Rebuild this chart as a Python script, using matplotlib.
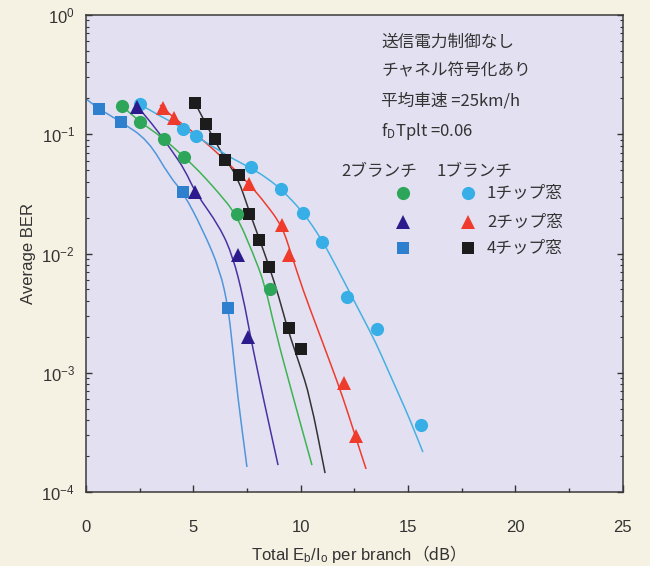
import matplotlib
matplotlib.use('Agg')
import numpy as np
import matplotlib.pyplot as plt
from matplotlib.ticker import LogLocator, MultipleLocator, NullFormatter
from matplotlib.lines import Line2D
from matplotlib.path import Path
from matplotlib.patches import PathPatch
from matplotlib.transforms import IdentityTransform

plt.rcParams['font.family'] = ['Liberation Sans', 'Noto Sans CJK JP', 'DejaVu Sans']
plt.rcParams['mathtext.fontset'] = 'custom'
plt.rcParams['mathtext.rm'] = 'Liberation Sans'
plt.rcParams['mathtext.it'] = 'Liberation Sans:italic'
plt.rcParams['mathtext.default'] = 'regular'

# ---------------- data ----------------
# measured points: 1 branch
b1_c1_x = [2.52, 4.52, 5.13, 7.69, 9.09, 10.11, 11.0, 12.16, 13.56, 15.61]
b1_c1_y = [0.179, 0.111, 0.0967, 0.0531, 0.0347, 0.0219, 0.0125, 0.00432, 0.00233, 0.000365]
b1_c2_x = [3.59, 4.10, 7.60, 9.13, 9.46, 12.02, 12.58]
b1_c2_y = [0.166, 0.137, 0.0383, 0.0173, 0.0097, 0.00082, 0.000295]
b1_c4_x = [5.08, 5.59, 6.01, 6.48, 7.13, 7.60, 8.06, 8.53, 9.46, 10.02]
b1_c4_y = [0.183, 0.122, 0.0912, 0.0608, 0.0455, 0.0214, 0.013, 0.0077, 0.00237, 0.00158]
# measured points: 2 branches
b2_c1_x = [1.68, 2.52, 3.63, 4.57, 7.04, 8.57]
b2_c1_y = [0.173, 0.127, 0.0912, 0.0645, 0.0214, 0.00504]
b2_c2_x = [2.38, 5.08, 7.08, 7.55]
b2_c2_y = [0.169, 0.0328, 0.0097, 0.0020]
b2_c4_x = [0.61, 1.63, 4.52, 6.62]
b2_c4_y = [0.163, 0.127, 0.0328, 0.00349]

# fitted curves
f1_c1_x = [2.33, 3.45, 4.52, 5.78, 6.94, 7.69, 8.43, 9.13, 10.11, 11.00, 11.70, 12.30,
           12.91, 13.51, 14.07, 14.63, 15.10, 15.70]
f1_c1_y = [0.1863, 0.1422, 0.1128, 0.0813, 0.0608, 0.0521, 0.0430, 0.0341, 0.0223, 0.01297,
           0.00755, 0.00467, 0.00288, 0.00178, 0.001054, 0.000626, 0.000402, 0.000216]
f1_c2_x = [3.45, 4.10, 4.94, 5.87, 6.76, 7.60, 8.39, 9.13, 9.55, 10.11, 10.81, 11.42,
           11.98, 12.49, 13.05]
f1_c2_y = [0.176, 0.1368, 0.1064, 0.0767, 0.0542, 0.0383, 0.0260, 0.0170, 0.0101, 0.00494,
           0.00228, 0.00116, 0.000614, 0.000318, 0.000156]
f1_c4_x = [5.08, 5.59, 6.01, 6.52, 7.08, 7.60, 8.06, 8.53, 8.99, 9.41, 9.93, 10.44, 11.14]
f1_c4_y = [0.1828, 0.1219, 0.0878, 0.0608, 0.0430, 0.0227, 0.01349, 0.00785, 0.00432,
           0.00228, 0.00121, 0.000626, 0.000144]
f2_c1_x = [1.68, 2.52, 3.59, 4.57, 5.22, 6.15, 6.99, 7.78, 8.34, 8.81, 9.65, 10.53]
f2_c1_y = [0.1725, 0.1267, 0.0930, 0.0645, 0.0501, 0.0328, 0.0214, 0.0101, 0.00544,
           0.00228, 0.000626, 0.000168]
f2_c2_x = [2.38, 3.31, 4.01, 4.61, 5.08, 6.24, 6.85, 7.32, 7.66, 7.95, 8.25, 8.95]
f2_c2_y = [0.1725, 0.1086, 0.0724, 0.0501, 0.0328, 0.01668, 0.00935, 0.00432, 0.00203,
           0.00114, 0.000626, 0.000168]
f2_c4_x = [0.0, 0.61, 1.63, 2.89, 3.91, 4.52, 5.45, 6.24, 6.62, 6.82, 7.06, 7.50]
f2_c4_y = [0.198, 0.163, 0.127, 0.0895, 0.0438, 0.0328, 0.0157, 0.00728, 0.00356,
           0.00171, 0.000650, 0.000162]

notes = ['送信電力制御なし', 'チャネル符号化あり', '平均車速 =25km/h',
         'f$_\\mathregular{D}$Tplt =0.06']
branch_labels = ['2ブランチ', '1ブランチ']
window_labels = ['1チップ窓', '2チップ窓', '4チップ窓']
x_label = 'Total E$_\\mathregular{b}$/I$_\\mathregular{o}$ per branch'
x_unit = '（dB）'
y_label = 'Average BER'

# ---------------- styles ----------------
C_LB = '#38aee6'
C_GR = '#2ea65a'
C_RD = '#ef3b2c'
C_PU = '#2c1b8c'
C_BL = '#2f7fcf'
C_BK = '#1c1c1c'
L_LB = '#45b0e2'
L_GR = '#3db352'
L_RD = '#ee3b2e'
L_PU = '#4a32a2'
L_BL = '#4f96dc'
L_BK = '#333333'
TXT = '#333333'

W, H = 650, 566
fig = plt.figure(figsize=(6.5, 5.66), dpi=100)
fig.patch.set_facecolor('#f5f1e3')
L, R, T, B = 86, 622.5, 15, 492
ax = fig.add_axes([L / W, 1 - B / H, (R - L) / W, (B - T) / H])
ax.set_facecolor('#e3e1f1')
ax.set_yscale('log')
ax.set_xlim(0, 25)
ax.set_ylim(1e-4, 1)


def smooth_curve(xs, ys, color, lw=1.1):
    """Draw a smooth quadratic B-spline through the read curve points,
    built in display space after the axes scales map the data."""
    p = ax.transData.transform(np.column_stack([xs, ys]))
    verts = [p[0], (p[0] + p[1]) / 2]
    codes = [Path.MOVETO, Path.LINETO]
    for i in range(1, len(p) - 1):
        verts += [p[i], (p[i] + p[i + 1]) / 2]
        codes += [Path.CURVE3, Path.CURVE3]
    verts.append(p[-1])
    codes.append(Path.LINETO)
    ax.add_patch(PathPatch(Path(verts, codes), facecolor='none', edgecolor=color,
                           lw=lw, transform=IdentityTransform(), zorder=2))


smooth_curve(f2_c4_x, f2_c4_y, L_BL)
smooth_curve(f2_c2_x, f2_c2_y, L_PU)
smooth_curve(f2_c1_x, f2_c1_y, L_GR)
smooth_curve(f1_c4_x, f1_c4_y, L_BK)
smooth_curve(f1_c2_x, f1_c2_y, L_RD)
smooth_curve(f1_c1_x, f1_c1_y, L_LB)

ms = 9.5
mk = dict(linestyle='none', markeredgewidth=0, zorder=3)
ax.plot(b1_c1_x, b1_c1_y, marker='o', ms=ms, color=C_LB, **mk)
ax.plot(b1_c2_x, b1_c2_y, marker='^', ms=ms, color=C_RD, **mk)
ax.plot(b1_c4_x, b1_c4_y, marker='s', ms=ms - 0.5, color=C_BK, **mk)
ax.plot(b2_c1_x, b2_c1_y, marker='o', ms=ms, color=C_GR, **mk)
ax.plot(b2_c2_x, b2_c2_y, marker='^', ms=ms, color=C_PU, **mk)
ax.plot(b2_c4_x, b2_c4_y, marker='s', ms=ms - 0.5, color=C_BL, **mk)

ax.xaxis.set_major_locator(MultipleLocator(5))
ax.xaxis.set_minor_locator(MultipleLocator(2.5))
ax.yaxis.set_major_locator(LogLocator(base=10, numticks=10))
ax.yaxis.set_minor_locator(LogLocator(base=10, subs=range(2, 10), numticks=10))
ax.yaxis.set_minor_formatter(NullFormatter())

ax.tick_params(axis='both', which='both', direction='in', colors='#333333',
               labelcolor=TXT, labelsize=12)
ax.tick_params(axis='x', which='major', length=5, width=1, pad=20)
ax.tick_params(axis='x', which='minor', length=3, width=1)
ax.tick_params(axis='y', which='major', length=4, width=1, pad=8, right=True)
ax.tick_params(axis='y', which='minor', length=2.5, width=0.8, right=True)
for s in ax.spines.values():
    s.set_color('#3a3a3a')
    s.set_linewidth(1.1)

ax.set_xlabel(x_label, fontsize=12, color=TXT, labelpad=8)
ax.xaxis.label.set_x(0.458)
ax.annotate(x_unit, xy=(1.0, 0.5), xycoords=ax.xaxis.label, va='center', ha='left',
            fontsize=12, color=TXT, family=['Noto Sans CJK JP', 'DejaVu Sans'],
            annotation_clip=False)
ax.set_ylabel(y_label, fontsize=12, color=TXT, labelpad=4)


def fx(px):
    return px / W


def fy(py):
    return 1 - py / H


jp = ['Noto Sans CJK JP', 'DejaVu Sans']
for txt, py in zip(notes, [42, 71, 101, 131]):
    fig.text(fx(381), fy(py), txt, fontsize=12, color=TXT, va='center',
             ha='left', family=jp)

fig.text(fx(341), fy(172), branch_labels[0], fontsize=12, color=TXT,
         va='center', ha='left', family=jp)
fig.text(fx(437), fy(172), branch_labels[1], fontsize=12, color=TXT,
         va='center', ha='left', family=jp)

leg_rows = [193, 222, 248]
left_styles = [('o', C_GR), ('^', C_PU), ('s', C_BL)]
right_styles = [('o', C_LB), ('^', C_RD), ('s', C_BK)]
for py, (m1, c1), (m2, c2), lab in zip(leg_rows, left_styles, right_styles, window_labels):
    fig.add_artist(Line2D([fx(403)], [fy(py)], marker=m1, color=c1,
                          ms=ms if m1 != 's' else ms - 0.5, linestyle='none',
                          markeredgewidth=0, transform=fig.transFigure))
    fig.add_artist(Line2D([fx(468)], [fy(py)], marker=m2, color=c2,
                          ms=ms if m2 != 's' else ms - 0.5, linestyle='none',
                          markeredgewidth=0, transform=fig.transFigure))
    fig.text(fx(487), fy(py), lab, fontsize=12, color=TXT, va='center',
             ha='left', family=jp)

fig.savefig('out.png', dpi=100, facecolor=fig.get_facecolor())
